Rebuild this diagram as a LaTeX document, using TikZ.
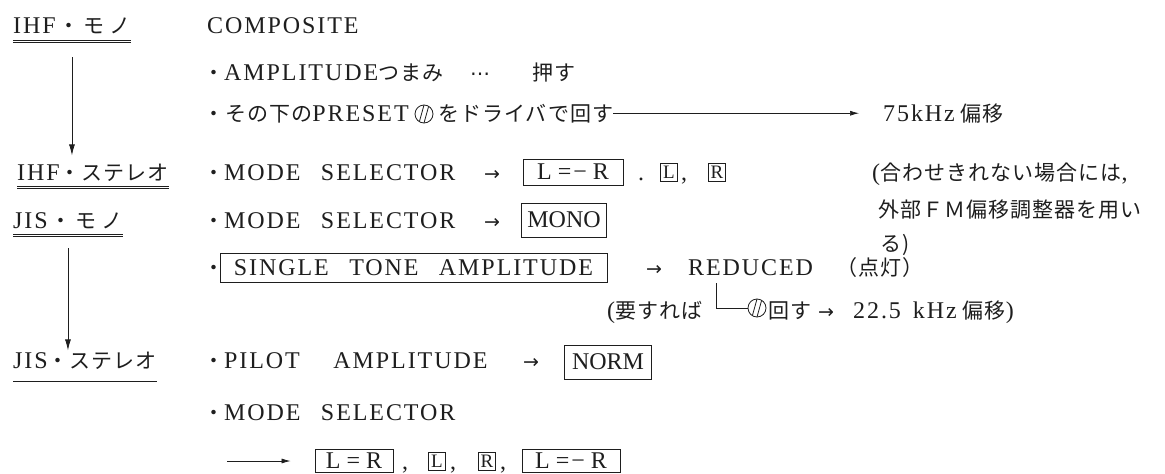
\documentclass[tikz,border=0pt]{standalone}
\usepackage{fontspec}
\setmainfont{Liberation Serif}
\newfontfamily\latf[LetterSpace=8]{Liberation Serif}
\newfontfamily\tightf{Liberation Serif}
\newfontfamily\jpf[LetterSpace=5]{Noto Sans CJK JP}
\newfontfamily\symf{DejaVu Sans}
\usetikzlibrary{arrows.meta}
\definecolor{ink}{HTML}{1E1E1E}
\newcommand\jt[1]{{\jpf\fontsize{21}{25}\selectfont #1}}
\newcommand\txtarrow{{\symf\fontsize{19}{22}\selectfont →}}
\newcommand\wsp{\hspace{0.85em}}
\begin{document}
\begin{tikzpicture}[x=1pt,y=-1pt,
  every node/.style={inner sep=0pt, text=ink},
  txt/.style={anchor=base west, font=\latf\fontsize{24}{28}\selectfont},
  tbox/.style={draw=ink, line width=0.9pt, inner sep=0pt, anchor=center, font=\latf\fontsize{24}{28}\selectfont},
  encl/.style={draw=ink, line width=0.8pt, minimum width=17pt, minimum height=18pt, inner sep=0pt, font=\tightf\fontsize{19}{22}\selectfont},
  dial/.style={circle, draw=ink, line width=0.8pt, minimum size=18pt, inner sep=0pt,
    path picture={\draw[ink, line width=0.8pt] ([xshift=-5pt]path picture bounding box.south) -- ([xshift=0pt]path picture bounding box.north);
                  \draw[ink, line width=0.8pt] ([xshift=0pt]path picture bounding box.south) -- ([xshift=5pt]path picture bounding box.north);}},
  dbl/.style={draw=ink, double=white, double distance=1.6pt, line width=0.7pt},
  flow/.style={draw=ink, line width=0.8pt, -{Latex[length=11pt,width=6pt]}},
  conn/.style={draw=ink, line width=0.7pt, -{Latex[length=9pt,width=5pt]}},
  brkline/.style={draw=ink, line width=0.7pt}]
\path[use as bounding box, fill=white] (0,0) rectangle (1165,474);

% Row A
\node[txt] (ihfm) at (13,33) {IHF\jt{\hspace{3pt}・\hspace{4pt}モ\hspace{5pt}ノ}};
\node[txt] (comp) at (207,33) {COMPOSITE};
% Row B
\node[txt] (ampl) at (203,80) {\jt{・}AMPLITUDE\jt{つまみ}};
\node[txt] (dots) at (470,80) {{\symf\fontsize{20}{24}\selectfont ⋯}};
\node[txt] (push) at (532,80) {\jt{押す}};
% Row C
\node[txt] (pre1) at (203,121) {\jt{・その下の}PRESET};
\node[dial] (dial1) at (424,114) {};
\node[txt] (pre2) at (438,121) {\jt{をドライバで回す}};
\node[txt] (k75) at (883,121) {75kHz\hspace{6pt}\jt{偏移}};
\draw[conn, shorten >=24pt] (pre2.east) -- (pre2.east -| k75.west);
% Row D
\node[txt] (ihfs) at (17,180) {IHF\jt{・ステレオ}};
\node[txt] (ms1) at (203,180) {\jt{・}MODE\wsp SELECTOR};
\node[txt] (ar1) at (484,180) {\txtarrow};
\node[tbox, minimum width=100pt, minimum height=26pt] (lmr1) at (573,172) {L\hspace{6pt}=\hspace{2pt}−\hspace{6pt}R};
\node[txt] (sep1) at (638,180) {.};
\node[encl] (el1) at (669,172) {L};
\node[txt] (c1) at (681,180) {,};
\node[encl] (er1) at (717,172) {R};
\node[txt] (n1) at (872,180) {(\jt{合わせきれない場合には},};
% Row E
\node[txt] (jism) at (13,228) {JIS\jt{\hspace{3pt}・\hspace{4pt}モ\hspace{5pt}ノ}};
\node[txt] (ms2) at (203,228) {\jt{・}MODE\wsp SELECTOR};
\node[txt] (ar2) at (484,228) {\txtarrow};
\node[tbox, minimum width=85pt, minimum height=34pt, font=\tightf\fontsize{24}{28}\selectfont] (mono) at (564,220) {MONO};
\node[txt] (n2) at (878,217) {\jt{外部ＦＭ偏移調整器を用い}};
\node[txt] (n3) at (880,251) {\jt{る)}};
% Row F
\node[txt] (b6) at (203,275) {\jt{・}};
\node[tbox, minimum width=387pt, minimum height=29pt] (stone) at (413.5,268) {SINGLE\wsp TONE\wsp AMPLITUDE};
\node[txt] (ar3) at (646,275) {\txtarrow};
\node[txt] (red) at (688,275) {REDUCED};
\node[txt] (tento) at (836,275) {\jt{（点灯）}};
% Row G
\node[txt] (yosu) at (607,318) {(\jt{要すれば}};
\coordinate (brk) at (716,283);
\node[dial] (dial2) at (757,308) {};
\node[txt] (maw) at (768,318) {\jt{回す}};
\node[txt] (ar4) at (818,318) {\txtarrow};
\node[txt] (k225) at (853,318) {22.5\hspace{0.5em}kHz\hspace{6pt}\jt{偏移})};
\draw[brkline] (brk) |- (dial2.west);
% Row H
\node[txt] (jiss) at (13,368) {JIS\jt{・ステレオ}};
\node[txt] (pilot) at (203,368) {\jt{・}PILOT\hspace{1.4em}AMPLITUDE};
\node[txt] (ar5) at (523,368) {\txtarrow};
\node[tbox, minimum width=87pt, minimum height=34pt, font=\tightf\fontsize{24}{28}\selectfont] (norm) at (608,362) {NORM};
% Row I
\node[txt] (ms3) at (203,420) {\jt{・}MODE\wsp SELECTOR};
% Row J
\coordinate (lst) at (227,461);
\node[tbox, minimum width=78pt, minimum height=23pt] (lr) at (354,461) {L\hspace{6pt}=\hspace{6pt}R};
\draw[conn, shorten >=24pt] (lst) -- (lr.west);
\node[txt] (c2) at (402,469) {,};
\node[encl] (el2) at (437,461) {L};
\node[txt] (c3) at (450,469) {,};
\node[encl] (er2) at (487,461) {R};
\node[txt] (c4) at (500,469) {,};
\node[tbox, minimum width=98pt, minimum height=23pt] (lmr2) at (571,461) {L\hspace{6pt}=\hspace{2pt}−\hspace{6pt}R};

% underlines
\draw[dbl] ([yshift=-8.5pt]ihfm.base west) -- ([yshift=-8.5pt]ihfm.base east);
\draw[dbl] ([yshift=-7.5pt]ihfs.base west) -- ([yshift=-7.5pt]ihfs.base east);
\draw[dbl] ([yshift=-7.5pt]jism.base west) -- ([yshift=-7.5pt]jism.base east);
\draw[dbl] ([yshift=-12pt]jiss.base west) -- ([yshift=-12pt]jiss.base east);

% flow arrows
\draw[flow, shorten >=8pt] ([yshift=-24pt]ihfm.base) -- (ihfm.base |- ihfs.north);
\draw[flow, shorten >=1pt] ([yshift=-20pt]jism.base) -- (jism.base |- jiss.north);
\end{tikzpicture}
\end{document}
